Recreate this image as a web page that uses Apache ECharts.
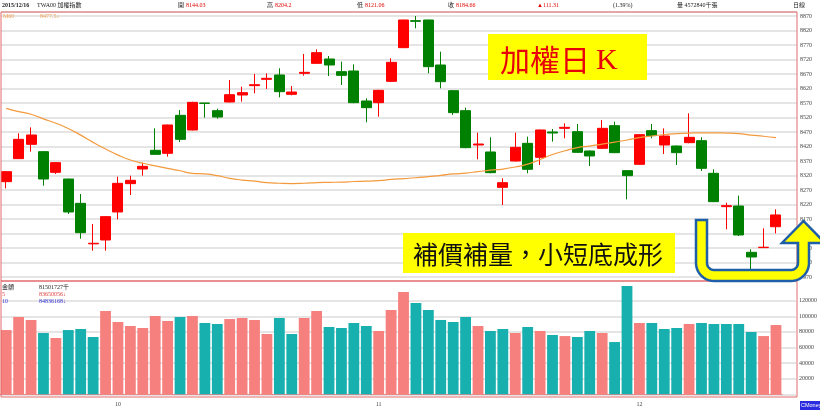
<!DOCTYPE html>
<html><head><meta charset="utf-8">
<script src="https://cdn.jsdelivr.net/npm/echarts@6/dist/echarts.min.js"></script>
<style>html,body{margin:0;padding:0;background:#fff}#c{width:820px;height:413px}</style>
</head><body><div id="c"></div>
<script>
const dates = [
 '2015/09/16','2015/09/17','2015/09/18','2015/09/21','2015/09/22','2015/09/23','2015/09/24','2015/09/25','2015/09/30',
 '2015/10/01','2015/10/02','2015/10/05','2015/10/06','2015/10/07','2015/10/08','2015/10/12','2015/10/13','2015/10/14','2015/10/15','2015/10/16',
 '2015/10/19','2015/10/20','2015/10/21','2015/10/22','2015/10/23','2015/10/26','2015/10/27','2015/10/28','2015/10/29','2015/10/30',
 '2015/11/02','2015/11/03','2015/11/04','2015/11/05','2015/11/06','2015/11/09','2015/11/10','2015/11/11','2015/11/12','2015/11/13',
 '2015/11/16','2015/11/17','2015/11/18','2015/11/19','2015/11/20','2015/11/23','2015/11/24','2015/11/25','2015/11/26','2015/11/27','2015/11/30',
 '2015/12/01','2015/12/02','2015/12/03','2015/12/04','2015/12/07','2015/12/08','2015/12/09','2015/12/10','2015/12/11','2015/12/14','2015/12/15','2015/12/16'
];
const opens = [8299.5,8378.8,8428.2,8402.9,8331.6,8308.6,8224.7,8085,8098.3,8194.9,8292.6,8343.1,8407.5,8397.2,8528.2,8477.6,8570.5,8544.3,8574.2,8598.3,
 8630.5,8652.3,8667.3,8600.6,8673.0,8707.5,8722.4,8678.8,8681.1,8577.6,8571.9,8645.4,8761.5,8854.6,8856.9,8701.7,8613.2,8544.3,8425.9,8401.8,
 8279.9,8370.7,8431.6,8383.4,8470.7,8483.4,8471.9,8405.2,8414.4,8492.6,8337.4,8359.2,8475.3,8425.9,8422.4,8434.0,8440.8,8328.2,8213.3,8215.5,
 8055.8,8072.0,8144.03];
const closes = [8333.9,8445.4,8460.4,8308.6,8365.0,8194.9,8123.6,8087,8178.8,8293.7,8304.1,8352.3,8393.7,8494.9,8445.4,8573.0,8569.5,8522.4,8599.4,8606.4,
 8633.9,8655.8,8609.8,8608.6,8676.5,8744.3,8701.7,8666.1,8571.9,8554.6,8614.4,8710.9,8856.9,8852.3,8696.0,8644.3,8537.4,8416.7,8429.3,8330.5,
 8296.0,8417.8,8342.0,8477.6,8467.3,8486.8,8400.6,8388.0,8483.4,8399.4,8320.1,8461.5,8458.1,8456.9,8399.4,8452.3,8345.4,8230.5,8216.7,8115.6,
 8039.7,8073.35,8184.66];
const lows = [8276.5,8378.0,8402.9,8285.7,8325.9,8188.0,8102.9,8061.5,8061.5,8169.6,8253.5,8320.1,8392.0,8385.7,8436.2,8476.0,8520.1,8516.7,8573.0,8575.3,
 8604.0,8619.0,8590.3,8597.2,8665.0,8706.0,8663.8,8632.8,8570.0,8504.1,8523.6,8643.0,8760.0,8828.2,8673.0,8621.3,8529.3,8415.0,8376.5,8328.2,
 8219.0,8369.0,8328.2,8356.9,8437.4,8448.9,8399.0,8353.5,8413.0,8398.0,8238.5,8357.0,8448.9,8394.9,8356.9,8432.0,8336.3,8229.0,8135.1,8112.1,
 7983.4,8071.0,8121.06];
const highs = [8336,8466.1,8486.8,8405,8366,8310,8256.9,8153.5,8180,8316.7,8320.1,8365,8483.4,8496,8546.6,8575,8571,8551.2,8650,8627,
 8670.7,8673,8690.3,8629.3,8739.7,8755.8,8732.8,8713.2,8704.1,8586.8,8616,8724.7,8858,8870.7,8858,8747.7,8615,8554.6,8468.4,8452.3,
 8311,8468.4,8454.6,8479,8481.1,8500.6,8498.3,8407,8512.1,8506.4,8339,8463,8498.3,8483.4,8424,8535.1,8452.3,8342,8227,8251.2,
 8066.1,8138.6,8204.2];
const ma60 = [8552,8541,8532,8516,8501,8483,8460,8435,8412,8391,8374,8363,8354,8345,8337,8328,8326,8320,8311,8305,
 8301,8296,8294,8293,8294,8296,8297,8298,8300,8301,8303,8307,8310,8313,8317,8321,8326,8329,8334,8339,
 8343,8350,8360,8376,8393,8406,8417,8422,8429,8436,8443,8451,8457,8462,8465,8467,8468,8468,8467,8465,
 8460,8456,8451];
const volumes = [82400,99100,95300,78600,72200,82400,83700,73500,106800,92700,87600,85000,100400,94000,99100,100400,91400,90100,96500,97800,
 95300,77300,97800,77300,97800,106800,86300,85000,91400,87600,81200,108100,131100,117000,108100,95300,92700,99100,87600,81200,
 83700,78600,86300,81200,76000,74700,73500,81200,78600,67000,138800,91400,91400,83700,85000,90100,91400,90100,90100,90100,
 79900,74700,88800];

const PMIN = 7970, PMAX = 8884.5, VMAX = 145260, VLAB = 120000;
const UP = '#FF0000', DN = '#008000', UPV = '#F5807E', DNV = '#17B0AE';
const PT = 12, PH = 265.2, VT = 281, VH = 113.3;
const VZERO = VT + VH;
const VLT = VZERO - VH * VLAB / VMAX;

const candleData = dates.map((d, i) => [opens[i], closes[i], lows[i], highs[i]]);
const volData = volumes.map((v, i) => ({ value: v, itemStyle: { color: (i === 0 || closes[i] >= closes[i - 1]) ? UPV : DNV } }));

function arc(cx, cy, r, a0, a1, n) { const p = []; for (let k = 0; k <= n; k++) { const a = a0 + (a1 - a0) * k / n; p.push([cx + r * Math.cos(a), cy + r * Math.sin(a)]); } return p; }
const Lo = 696, Li = 707, T = 220, Bi = 270, Bo = 281, Ri = 798, Ro = 809, ro = 18, ri = 7, H = 243;
const arrowPts = [[Lo, T], [Lo, Bo - ro], ...arc(Lo + ro, Bo - ro, ro, Math.PI, Math.PI / 2, 10), ...arc(Ro - ro, Bo - ro, ro, Math.PI / 2, 0, 10),
  [Ro, H], [825, H], [803.5, 221], [782, H], [Ri, H], ...arc(Ri - ri, Bi - ri, ri, 0, Math.PI / 2, 6), ...arc(Li + ri, Bi - ri, ri, Math.PI / 2, Math.PI, 6), [Li, T]];

function txt(x, y, s, color, size, family, weight) {
  return { type: 'text', z: 100, x: x, y: y, style: { text: s, fill: color, font: (weight || 'normal') + ' ' + size + 'px ' + (family || '"Liberation Serif", "Noto Sans CJK TC"'), align: 'left', verticalAlign: 'middle', textAlign: 'left', textVerticalAlign: 'middle' } };
}
const HD = '#222', RD = '#E00000';
const graphics = [
  { type: 'rect', z: 90, shape: { x: 1, y: PT, width: 796, height: 269 }, style: { fill: 'none', stroke: '#E36A6A', lineWidth: 1 } },
  { type: 'rect', z: 90, shape: { x: 1, y: 281, width: 796, height: 116 }, style: { fill: 'none', stroke: '#E36A6A', lineWidth: 1 } },
  txt(2, 5, '2015/12/16', HD, 6, null, 'bold'),
  txt(37, 5, 'TWA00 加權指數', HD, 6),
  txt(178, 5, '開', HD, 6), txt(186, 5, '8144.03', RD, 6),
  txt(267, 5, '高', HD, 6), txt(275, 5, '8204.2', RD, 6),
  txt(357, 5, '低', HD, 6), txt(365, 5, '8121.06', RD, 6),
  txt(448, 5, '收', HD, 6), txt(456, 5, '8184.66', RD, 6),
  txt(537, 5, '▲111.31', RD, 6),
  txt(613, 5, '(1.39%)', HD, 6),
  txt(677, 5, '量 4572840千張', HD, 6),
  txt(793, 5, '日線', HD, 6),
  txt(3, 16, 'M60', '#F0A050', 6), txt(40, 16, '8477.5↓', '#F0A050', 6),
  txt(2, 287, '金額', HD, 6), txt(39, 287, '81501727千', HD, 6),
  txt(2, 294, '5', '#E04040', 6), txt(39, 294, '83650056↓', '#E04040', 6),
  txt(2, 301, '10', '#3030D0', 6), txt(39, 301, '84836168↓', '#3030D0', 6),
  { type: 'rect', z: 100, shape: { x: 800, y: 401, width: 20, height: 9 }, style: { fill: '#2B2BE0' } },
  txt(801, 405.5, 'CMoney', '#FFFFFF', 5.5, '"Liberation Sans"'),
  { type: 'rect', z: 100, shape: { x: 488, y: 34, width: 159, height: 46 }, style: { fill: '#FFFF00' } },
  txt(500, 60, '加權日', '#E8000B', 30, '"Noto Sans CJK TC"'),
  txt(596, 61, 'K', '#E8000B', 30, '"Liberation Serif"'),
  { type: 'rect', z: 100, shape: { x: 403, y: 233, width: 272, height: 40 }, style: { fill: '#FFFF00' } },
  txt(413, 254, '補價補量，小短底成形', '#111111', 25, '"Noto Sans CJK TC"'),
  { type: 'polygon', z: 101, shape: { points: arrowPts }, style: { fill: '#FFFF00', stroke: '#1F5FA8', lineWidth: 2.5 } }
];

const axLabel = { fontSize: 6, fontFamily: 'Liberation Serif', color: '#444' };
const option = {
  animation: false,
  backgroundColor: '#fff',
  grid: [
    { left: 1, top: PT, width: 796, height: PH },
    { left: -2.2, top: PT, width: 784.4, height: PH },
    { left: 1, top: VLT, width: 796, height: VZERO - VLT },
    { left: -2.2, top: VT, width: 784.4, height: VH }
  ],
  xAxis: [
    { gridIndex: 0, type: 'value', min: 0, max: 1, show: false },
    { gridIndex: 1, type: 'category', data: dates, show: false },
    { gridIndex: 2, type: 'value', min: 0, max: 1, show: false },
    { gridIndex: 3, type: 'category', data: dates, offset: 2.7,
      axisLine: { lineStyle: { color: '#E88A8A', width: 1 } },
      axisTick: { interval: 0, length: 3, lineStyle: { color: '#E88A8A' } },
      axisLabel: Object.assign({}, axLabel, { margin: 4,
        interval: (i) => i > 0 && dates[i].slice(5, 7) !== dates[i - 1].slice(5, 7),
        formatter: (v) => String(parseInt(v.slice(5, 7), 10)) }) }
  ],
  yAxis: [
    { gridIndex: 0, type: 'value', position: 'right', min: PMIN, max: PMAX, interval: 50,
      axisLine: { show: false }, axisTick: { show: false },
      splitLine: { lineStyle: { color: '#DCDCDC', width: 1.5 } },
      axisLabel: Object.assign({}, axLabel, { margin: 3, formatter: (v) => ((v - PMIN) % 50 === 0 && v <= 8870) ? String(v) : '' }) },
    { gridIndex: 1, type: 'value', min: PMIN, max: PMAX, show: false },
    { gridIndex: 2, type: 'value', position: 'right', min: 0, max: VLAB, interval: 20000,
      axisLine: { show: false }, axisTick: { show: false },
      splitLine: { lineStyle: { color: '#DCDCDC', width: 1.5 } },
      axisLabel: Object.assign({}, axLabel, { margin: 3, formatter: (v) => (v > 0) ? String(v) : '' }) },
    { gridIndex: 3, type: 'value', min: 0, max: VMAX, show: false }
  ],
  series: [
    { type: 'candlestick', xAxisIndex: 1, yAxisIndex: 1, data: candleData, barWidth: 10.5,
      itemStyle: { color: UP, color0: DN, borderColor: UP, borderColor0: DN, borderWidth: 1 } },
    { type: 'line', xAxisIndex: 1, yAxisIndex: 1, data: ma60, symbol: 'none', smooth: true,
      lineStyle: { color: '#F39A3D', width: 1.2 } },
    { type: 'bar', xAxisIndex: 3, yAxisIndex: 3, data: volData, barWidth: 10.8 }
  ],
  graphic: graphics
};
const chart = echarts.init(document.getElementById('c'), null, { renderer: 'canvas' });
chart.setOption(option);
</script></body></html>
